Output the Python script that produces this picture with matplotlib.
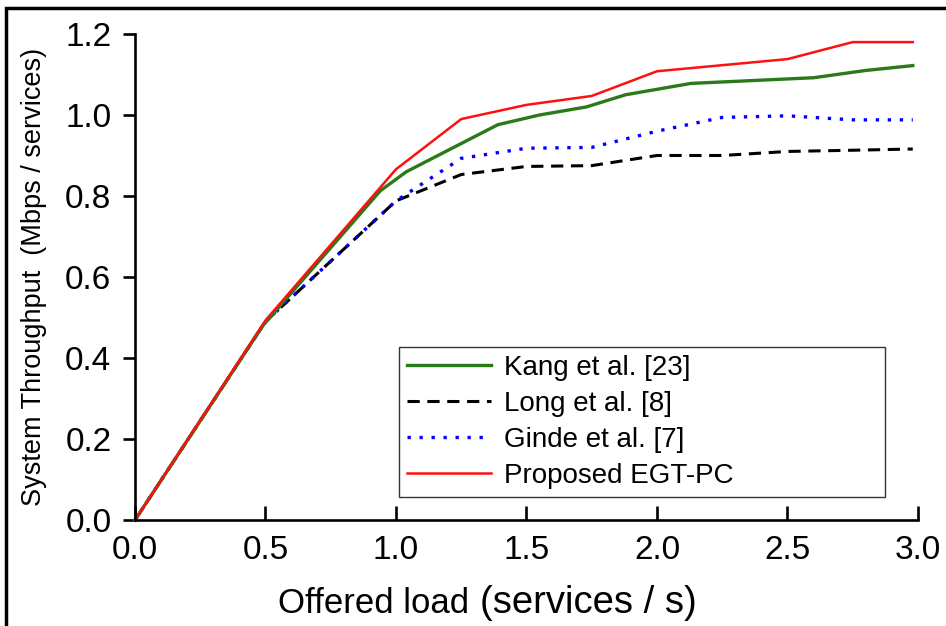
import matplotlib.pyplot as plt
from matplotlib.patches import Rectangle

plt.rcParams['font.family'] = ['Liberation Sans', 'DejaVu Sans']

# values
kang_x = [0, 0.49, 0.94, 1.04, 1.39, 1.55, 1.73, 1.88, 2.13, 2.6, 2.8, 2.98]
kang_y = [0, 0.48, 0.813, 0.86, 0.976, 1.0, 1.02, 1.05, 1.078, 1.092, 1.11, 1.122]

long_x = [0, 0.5, 1.0, 1.25, 1.5, 1.75, 2.0, 2.25, 2.5, 2.75, 2.98]
long_y = [0, 0.49, 0.788, 0.853, 0.873, 0.875, 0.9, 0.9, 0.91, 0.913, 0.916]

ginde_x = [0, 0.5, 1.0, 1.25, 1.5, 1.75, 2.0, 2.25, 2.5, 2.75, 2.98]
ginde_y = [0, 0.49, 0.788, 0.893, 0.918, 0.92, 0.96, 0.994, 0.998, 0.988, 0.988]

prop_x = [0, 0.5, 1.0, 1.25, 1.5, 1.75, 2.0, 2.5, 2.75, 2.98]
prop_y = [0, 0.493, 0.866, 0.99, 1.025, 1.047, 1.108, 1.138, 1.18, 1.18]

xticks = [0.0, 0.5, 1.0, 1.5, 2.0, 2.5, 3.0]
yticks = [0.0, 0.2, 0.4, 0.6, 0.8, 1.0, 1.2]

fig = plt.figure(figsize=(9.46, 6.26), dpi=100)
ax = fig.add_axes([0.1427, 0.1693, 0.8277, 0.7764])

l_long, = ax.plot(long_x, long_y, color='black', lw=2.2, linestyle=(0, (4, 2.5)),
                  label='Long et al. [8]', clip_on=False)
l_ginde, = ax.plot(ginde_x, ginde_y, color='#0000ff', lw=2.4, linestyle=(0, (1, 2.6)),
                   label='Ginde et al. [7]', clip_on=False)
l_kang, = ax.plot(kang_x, kang_y, color='#2a7a1a', lw=2.4, label='Kang et al. [23]', clip_on=False)
l_prop, = ax.plot(prop_x, prop_y, color='#ff1010', lw=1.8, label='Proposed EGT-PC', clip_on=False)

ax.set_xlim(0, 3.0)
ax.set_ylim(0, 1.2)
ax.set_xticks(xticks)
ax.set_yticks(yticks)
ax.set_xticklabels([f'{v:.1f}' for v in xticks])
ax.set_yticklabels([f'{v:.1f}' for v in yticks])

for s in ['top', 'right']:
    ax.spines[s].set_visible(False)
for s in ['left', 'bottom']:
    ax.spines[s].set_linewidth(1.9)

ax.tick_params(axis='y', direction='out', length=9, width=1.9, pad=8)
ax.tick_params(axis='x', direction='in', length=10, width=1.9, pad=11)
for lab in ax.get_xticklabels() + ax.get_yticklabels():
    lab.set_fontsize(24)

ax.set_ylabel('System Throughput  (Mbps / services)', fontsize=19.5)
ax.yaxis.set_label_coords(-0.112, 0.5)

# x label in two parts with different sizes, as in the original
fig.text(278 / 946, 1 - 613 / 626, 'Offered load', fontsize=25,
         ha='left', va='baseline')
fig.text(480 / 946, 1 - 613 / 626, '(services / s)', fontsize=27.5,
         ha='left', va='baseline')

leg = ax.legend(handles=[l_kang, l_long, l_ginde, l_prop], loc='lower left',
                bbox_to_anchor=(0.337, 0.047, 0.621, 0.311), mode='expand',
                fontsize=20, fancybox=False, framealpha=1, edgecolor='#333333',
                handlelength=3.0, handletextpad=0.5, labelspacing=0.36,
                borderpad=0.3, borderaxespad=0)
leg.get_frame().set_linewidth(1.0)

# outer frame, partly cut by the image edge
fig.patches.append(Rectangle((6 / 946, -0.1), 1.2, 1.1 - 8 / 626, fill=False,
                             lw=2.5, edgecolor='black', transform=fig.transFigure))

fig.savefig('out.png', dpi=100)
